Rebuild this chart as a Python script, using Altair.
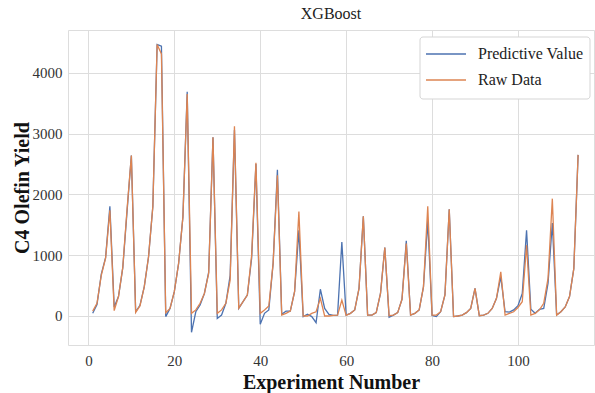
import altair as alt
import pandas as pd

experiments = list(range(1, 115))

predictive = [
    44, 190, 690, 960, 1805, 150, 320, 790, 1720, 2640,
    70, 175, 480, 975, 1800, 4465, 4437, -10, 125, 400,
    865, 1630, 3690, -268, 70, 180, 370, 720, 2940, -40,
    15, 210, 670, 3060, 125, 235, 345, 950, 2500, -137,
    44, 100, 865, 2407, 30, 80, 80, 400, 1410, -10,
    30, -10, -110, 440, 125, 27, 10, 15, 1215, 15,
    44, 100, 455, 1640, 15, 15, 55, 370, 1127, -20,
    15, 55, 275, 1235, 15, 44, 100, 480, 1560, 10,
    -10, 70, 345, 1755, -10, 0, 15, 55, 125, 455,
    5, 15, 44, 125, 290, 645, 70, 65, 100, 170,
    370, 1410, 110, 44, 110, 125, 540, 1530, 15, 70,
    150, 320, 780, 2650,
]

raw = [
    80, 208, 670, 950, 1740, 88, 320, 800, 1760, 2640,
    60, 165, 480, 975, 1800, 4465, 4310, 55, 125, 400,
    865, 1630, 3650, 44, 100, 210, 370, 700, 2940, 44,
    100, 210, 590, 3120, 130, 235, 345, 1000, 2520, 44,
    100, 165, 865, 2315, 15, 44, 80, 400, 1720, 0,
    0, 44, 70, 290, 0, 0, 10, 15, 260, 10,
    44, 100, 455, 1640, 15, 15, 55, 370, 1127, 5,
    15, 55, 275, 1190, 15, 44, 100, 480, 1805, 15,
    15, 70, 345, 1755, -10, 0, 15, 55, 125, 455,
    5, 15, 44, 125, 290, 728, 15, 44, 70, 140,
    235, 1165, 15, 44, 100, 210, 620, 1930, 15, 70,
    150, 320, 780, 2650,
]

series_names = ["Predictive Value", "Raw Data"]
series_colors = ["#4C72B0", "#DD8452"]
x_ticks = [0, 20, 40, 60, 80, 100]
y_ticks = [0, 1000, 2000, 3000, 4000]

df = pd.concat([
    pd.DataFrame({"Experiment": experiments, "Yield": predictive, "Series": series_names[0]}),
    pd.DataFrame({"Experiment": experiments, "Yield": raw, "Series": series_names[1]}),
])

SERIF = "Liberation Serif"
color_scale = alt.Scale(domain=series_names, range=series_colors)

lines = alt.Chart(df).mark_line(strokeWidth=1.3).encode(
    x=alt.X("Experiment:Q",
            scale=alt.Scale(domain=[-4.75, 117.7], nice=False, zero=False),
            axis=alt.Axis(values=x_ticks, title="Experiment Number", format="d",
                          labelFont=SERIF, labelFontSize=15, labelColor="#333333",
                          labelPadding=8, ticks=False, domain=False,
                          titleFont=SERIF, titleFontSize=20, titleFontWeight="bold",
                          titleColor="#111111", titlePadding=4,
                          gridColor="#dddddd", gridWidth=1)),
    y=alt.Y("Yield:Q",
            scale=alt.Scale(domain=[-477, 4704], nice=False, zero=False),
            axis=alt.Axis(values=y_ticks, title="C4 Olefin Yield", format="d",
                          labelFont=SERIF, labelFontSize=15, labelColor="#333333",
                          labelPadding=6, ticks=False, domain=False,
                          titleFont=SERIF, titleFontSize=20, titleFontWeight="bold",
                          titleColor="#111111", titlePadding=0,
                          gridColor="#dddddd", gridWidth=1)),
    color=alt.Color("Series:N", scale=color_scale, legend=None),
)

# Hand-placed legend box (pixel positions inside the plot area)
legend_df = pd.DataFrame({"Series": series_names, "row": [0, 1]})
ROW_Y = [24, 50]

legend_box = alt.Chart(pd.DataFrame({"k": [0]})).mark_rect(
    fill="white", stroke="#d5d5d5", strokeWidth=1, cornerRadius=3
).encode(x=alt.value(352), x2=alt.value(522), y=alt.value(7), y2=alt.value(69))

legend_layers = [legend_box]
for name, yy in zip(series_names, ROW_Y):
    sub = legend_df[legend_df["Series"] == name]
    legend_layers.append(
        alt.Chart(sub).mark_rule(strokeWidth=1.5).encode(
            x=alt.value(358), x2=alt.value(398), y=alt.value(yy),
            color=alt.Color("Series:N", scale=color_scale, legend=None))
    )
    legend_layers.append(
        alt.Chart(sub).mark_text(font=SERIF, fontSize=16, color="#222222",
                                 align="left", baseline="middle").encode(
            x=alt.value(410), y=alt.value(yy), text="Series:N")
    )

chart = alt.layer(lines, *legend_layers).properties(
    width=526,
    height=315,
    title=alt.TitleParams("XGBoost", font=SERIF, fontSize=16, fontWeight="normal",
                          color="#222222", offset=8, anchor="middle"),
    padding={"left": 68, "top": 30, "right": 1, "bottom": 48},
    autosize=alt.AutoSizeParams(type="none"),
).configure_view(
    stroke="#cccccc", strokeWidth=1
).configure(background="white")

chart.save("out.html", embed_options={"renderer": "svg", "actions": False})
